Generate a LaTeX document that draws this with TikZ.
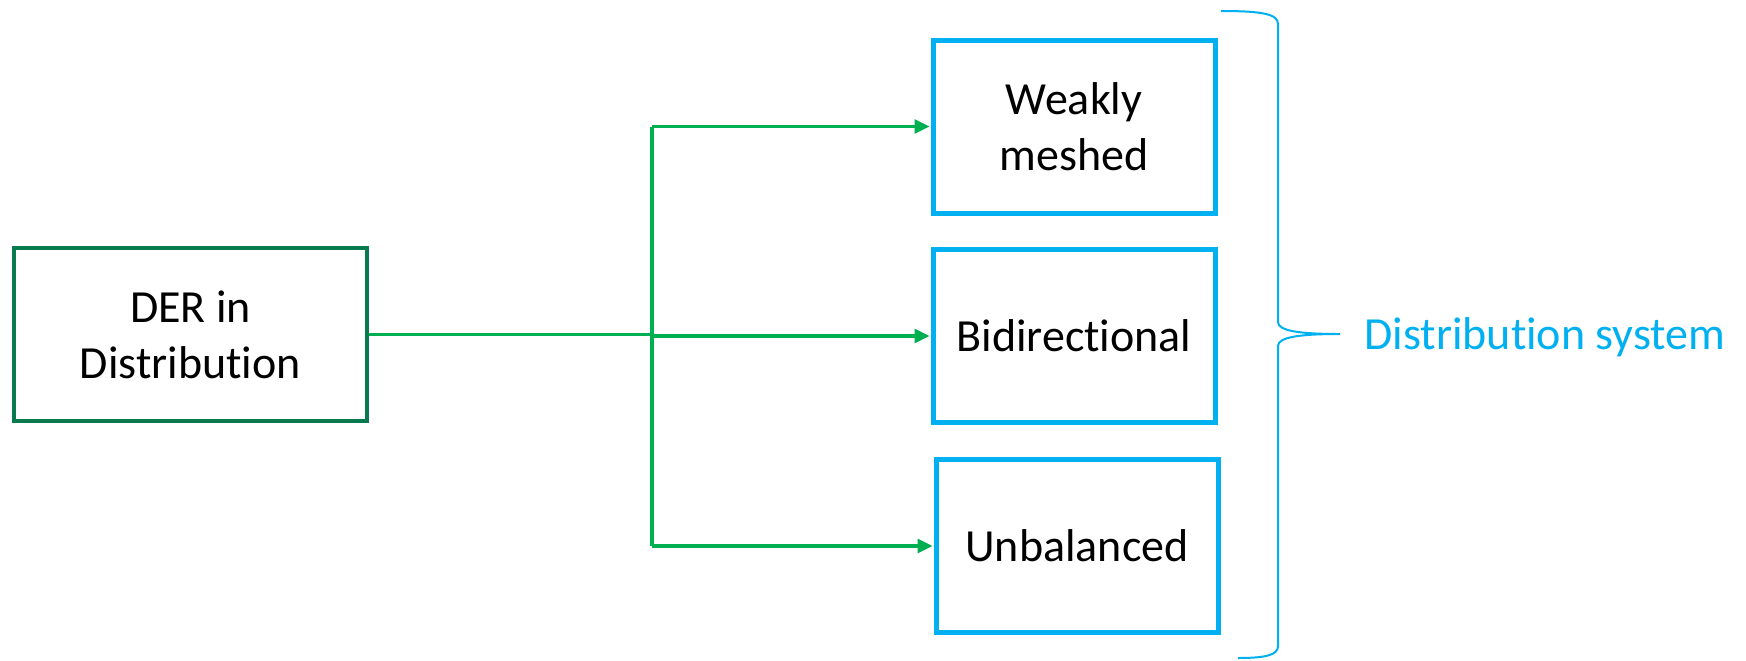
\documentclass[tikz,border=0pt]{standalone}
\usepackage{fontspec}
\setmainfont{Carlito}[Ligatures=NoCommon]
\usetikzlibrary{arrows.meta}
\definecolor{dergreen}{RGB}{8,122,78}
\definecolor{feedgreen}{RGB}{0,176,80}
\definecolor{sysblue}{RGB}{0,176,240}

\begin{document}
\begin{tikzpicture}[x=0.5pt, y=-0.5pt,
	font=\fontsize{23pt}{28pt}\selectfont,
	derbox/.style={draw=dergreen, line width=2.25pt, minimum width=176.5pt, minimum height=86.5pt, align=center, inner sep=0pt},
	sysbox/.style={draw=sysblue, line width=2.5pt, minimum width=141pt, minimum height=86.5pt, align=center, inner sep=0pt},
	feed/.style={draw=feedgreen, line width=1.6pt},
	feedarrow/.style={feed, -{Triangle[length=7.5pt, width=7pt]}, shorten >=0.5pt}]
		%%%%% START %%%%%
		
		\useasboundingbox (0, 0) rectangle (1746, 660);
		
		\node[derbox] (der) at (190.5, 334.5) {DER in\\Distribution};
		
		\node[sysbox] (weak) at (1074, 126.5) {Weakly\\meshed};
		\node[sysbox] (bidir) at (1074, 336) {Bidirectional};
		\node[sysbox] (unbal) at (1077, 546) {Unbalanced};
		
		\coordinate (split) at (652, 335);
		\draw[feed] (der.east) -- (split |- der.east);
		\draw[feed] (split |- weak.west) -- (split |- unbal.west);
		\draw[feedarrow] (split |- weak.west) -- (weak.west);
		\draw[feedarrow] (split |- bidir.west) -- (bidir.west);
		\draw[feedarrow] (split |- unbal.west) -- (unbal.west);
		
		% brace
		\coordinate (bracetip) at (1340, 334);
		\draw[sysblue, line width=1pt] (1221, 11) .. controls (1262, 11) and (1278, 14) .. (1278, 24)
			-- (1278, 322) .. controls (1278, 331) and (1300, 334) .. (bracetip)
			.. controls (1300, 334) and (1278, 337) .. (1278, 346)
			-- (1278, 646) .. controls (1278, 655) and (1266, 658) .. (1238, 658);
		\node[sysblue, anchor=base west, inner sep=0pt] (sys) at (1364, 349) {Distribution system};
		
		%%%%% END %%%%%
	\end{tikzpicture}
\end{document}
